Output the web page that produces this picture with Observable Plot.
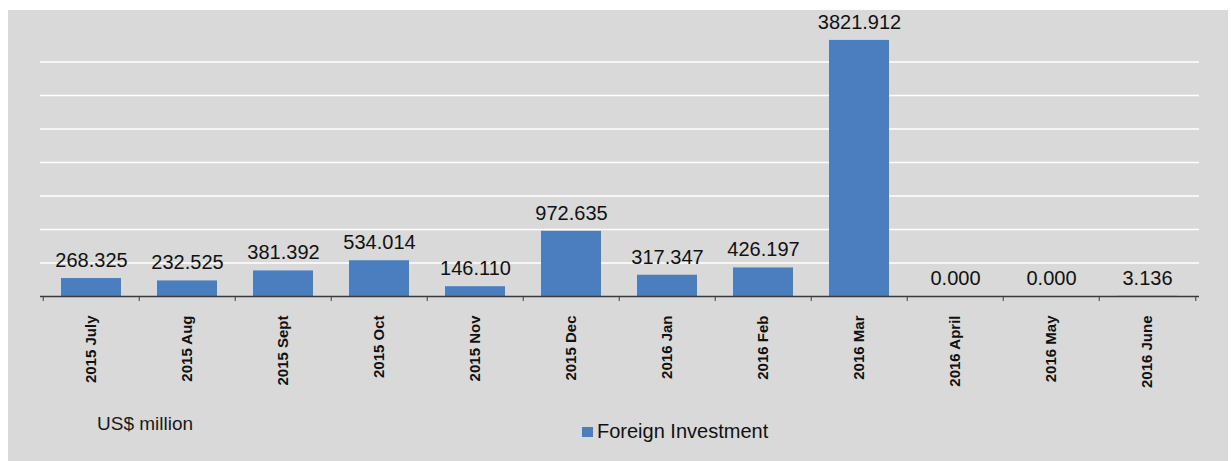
<!DOCTYPE html>
<html>
<head>
<meta charset="utf-8">
<script src="https://cdn.jsdelivr.net/npm/d3@7"></script>
<script src="https://cdn.jsdelivr.net/npm/@observablehq/plot@0.6"></script>
<style>
  html, body { margin: 0; padding: 0; background: #ffffff; }
  #wrap { position: relative; width: 1231px; height: 461px; overflow: hidden; font-family: "Liberation Sans", Arial, sans-serif; }
  #panel { position: absolute; left: 8px; top: 10px; width: 1220px; height: 451px; background: #d9d9d9; }
  #chart { position: absolute; left: 0; top: 0; }
  #unit { position: absolute; left: 97px; top: 413px; font-size: 19px; color: #1a1a1a; }
  #legend { position: absolute; left: 582px; top: 420px; font-size: 20px; color: #111; display: flex; align-items: center; }
  #legend .sw { width: 11px; height: 10px; margin-right: 4px; }
</style>
</head>
<body>
<div id="wrap">
  <div id="panel"></div>
  <div id="chart"></div>
  <div id="unit"></div>
  <div id="legend"><span class="sw"></span><span class="lbl"></span></div>
</div>
<script>
const months = ["2015 July", "2015 Aug", "2015 Sept", "2015 Oct", "2015 Nov", "2015 Dec",
                "2016 Jan", "2016 Feb", "2016 Mar", "2016 April", "2016 May", "2016 June"];
const values = [268.325, 232.525, 381.392, 534.014, 146.110, 972.635,
                317.347, 426.197, 3821.912, 0.000, 0.000, 3.136];
const gridTicks = [500, 1000, 1500, 2000, 2500, 3000, 3500];
const yDomain = [0, 4000];
const seriesName = "Foreign Investment";
const unitLabel = "US$ million";
const barColor = "#4a7ebf";

const data = months.map((m, i) => ({month: m, value: values[i]}));
const fmt = d3.format(".3f");

const W = 1231, H = 400, ML = 40, MR = 32, MT = 28, MB = 104;
const step = (W - ML - MR) / months.length;

const chart = Plot.plot({
  width: W, height: H,
  marginLeft: ML, marginRight: MR, marginTop: MT, marginBottom: MB,
  style: {background: "transparent", fontFamily: "'Liberation Sans', Arial, sans-serif", overflow: "visible"},
  x: {domain: months, paddingInner: 0.37, paddingOuter: 0.185, axis: null},
  y: {domain: yDomain, axis: null},
  marks: [
    Plot.ruleY(gridTicks, {stroke: "#ffffff", strokeWidth: 1.5}),
    Plot.barY(data, {x: "month", y: "value", fill: barColor}),
    Plot.ruleY([0], {stroke: "#3a3a3a", strokeWidth: 1.5}),
    Plot.axisX({ticks: months, tickSize: 5, tickFormat: () => "", dx: -step / 2, label: null, stroke: "#3a3a3a"}),
    Plot.axisX({ticks: [months[months.length - 1]], tickSize: 5, tickFormat: () => "", dx: step / 2, label: null, stroke: "#3a3a3a"}),
    Plot.text(data, {x: "month", y: "value", text: d => fmt(d.value), dy: -18, fontSize: 20, fill: "#111"}),
    Plot.text(months, {x: d => d, frameAnchor: "bottom", dy: 19, rotate: -90, textAnchor: "end", lineAnchor: "middle",
                       fontWeight: "bold", fontSize: 15, fill: "#111", text: d => d})
  ]
});
document.getElementById("chart").appendChild(chart);
document.getElementById("unit").textContent = unitLabel;
document.querySelector("#legend .lbl").textContent = seriesName;
document.querySelector("#legend .sw").style.background = barColor;
</script>
</body>
</html>
